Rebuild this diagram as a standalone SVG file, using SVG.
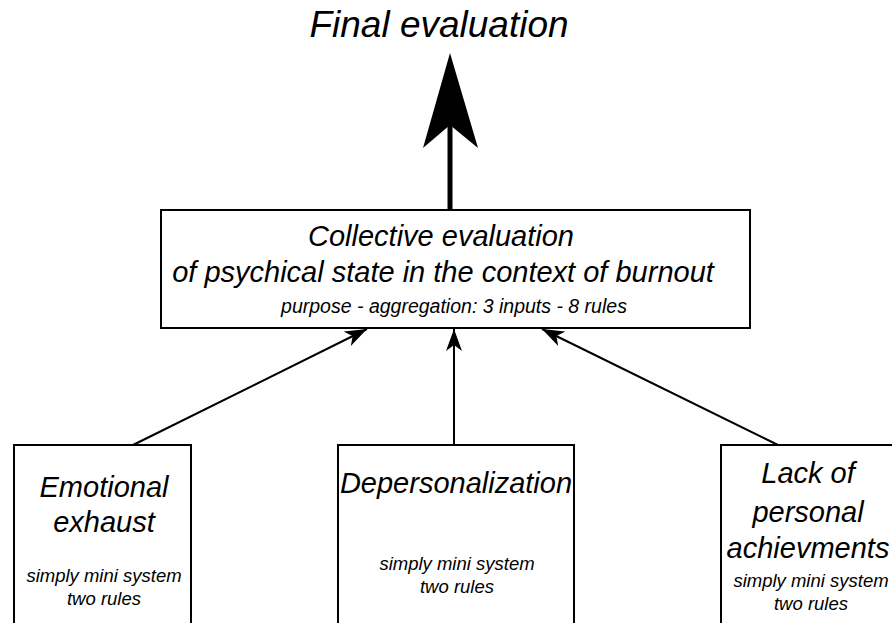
<svg xmlns="http://www.w3.org/2000/svg" width="892" height="623" viewBox="0 0 892 623">
<defs>
<style>
.box{fill:#fff;stroke:#000;stroke-width:2}
.t{font-family:"Liberation Sans",Arial,sans-serif;font-style:italic;fill:#000;text-anchor:middle}
.big{font-size:29px}
.sm{font-size:18.5px}
.con{stroke:#000;stroke-width:2;fill:none}
</style>
<marker id="ah" markerWidth="24" markerHeight="16" refX="22" refY="8" orient="auto" markerUnits="userSpaceOnUse">
<path d="M0,0 L22,8 L0,16 L6,8 Z" fill="#000"/>
</marker>
</defs>
<rect width="892" height="623" fill="#fff"/>
<text class="t" x="439" y="37" font-size="37">Final evaluation</text>
<g id="connectors">
<line x1="450" y1="210" x2="450" y2="120" stroke="#000" stroke-width="5"/>
<path d="M450,53 L478,148 L450,125 L423,148 Z" fill="#000"/>
<line class="con" x1="133" y1="445" x2="367" y2="329" marker-end="url(#ah)"/>
<line class="con" x1="454" y1="445" x2="454" y2="329" marker-end="url(#ah)"/>
<line class="con" x1="778" y1="445" x2="542" y2="329" marker-end="url(#ah)"/>
</g>
<g id="collective">
<rect class="box" x="161" y="210" width="589" height="118"/>
<text class="t big" x="441" y="246">Collective evaluation</text>
<text class="t big" x="443" y="282">of psychical state in the context of burnout</text>
<text class="t" x="454" y="313" font-size="19.5">purpose - aggregation: 3 inputs - 8 rules</text>
</g>
<g id="emotional">
<rect class="box" x="14" y="445" width="177" height="190"/>
<text class="t big" x="104" y="497">Emotional</text>
<text class="t big" x="104" y="532">exhaust</text>
<text class="t sm" x="104" y="582">simply mini system</text>
<text class="t sm" x="104" y="605">two rules</text>
</g>
<g id="depersonalization">
<rect class="box" x="338" y="445" width="236" height="190"/>
<text class="t big" x="456" y="493">Depersonalization</text>
<text class="t sm" x="457" y="570">simply mini system</text>
<text class="t sm" x="457" y="593">two rules</text>
</g>
<g id="lack">
<rect class="box" x="721" y="445" width="190" height="190"/>
<text class="t big" x="808" y="483">Lack of</text>
<text class="t big" x="808" y="522">personal</text>
<text class="t big" x="808" y="558">achievments</text>
<text class="t sm" x="811" y="587">simply mini system</text>
<text class="t sm" x="811" y="610">two rules</text>
</g>
</svg>
